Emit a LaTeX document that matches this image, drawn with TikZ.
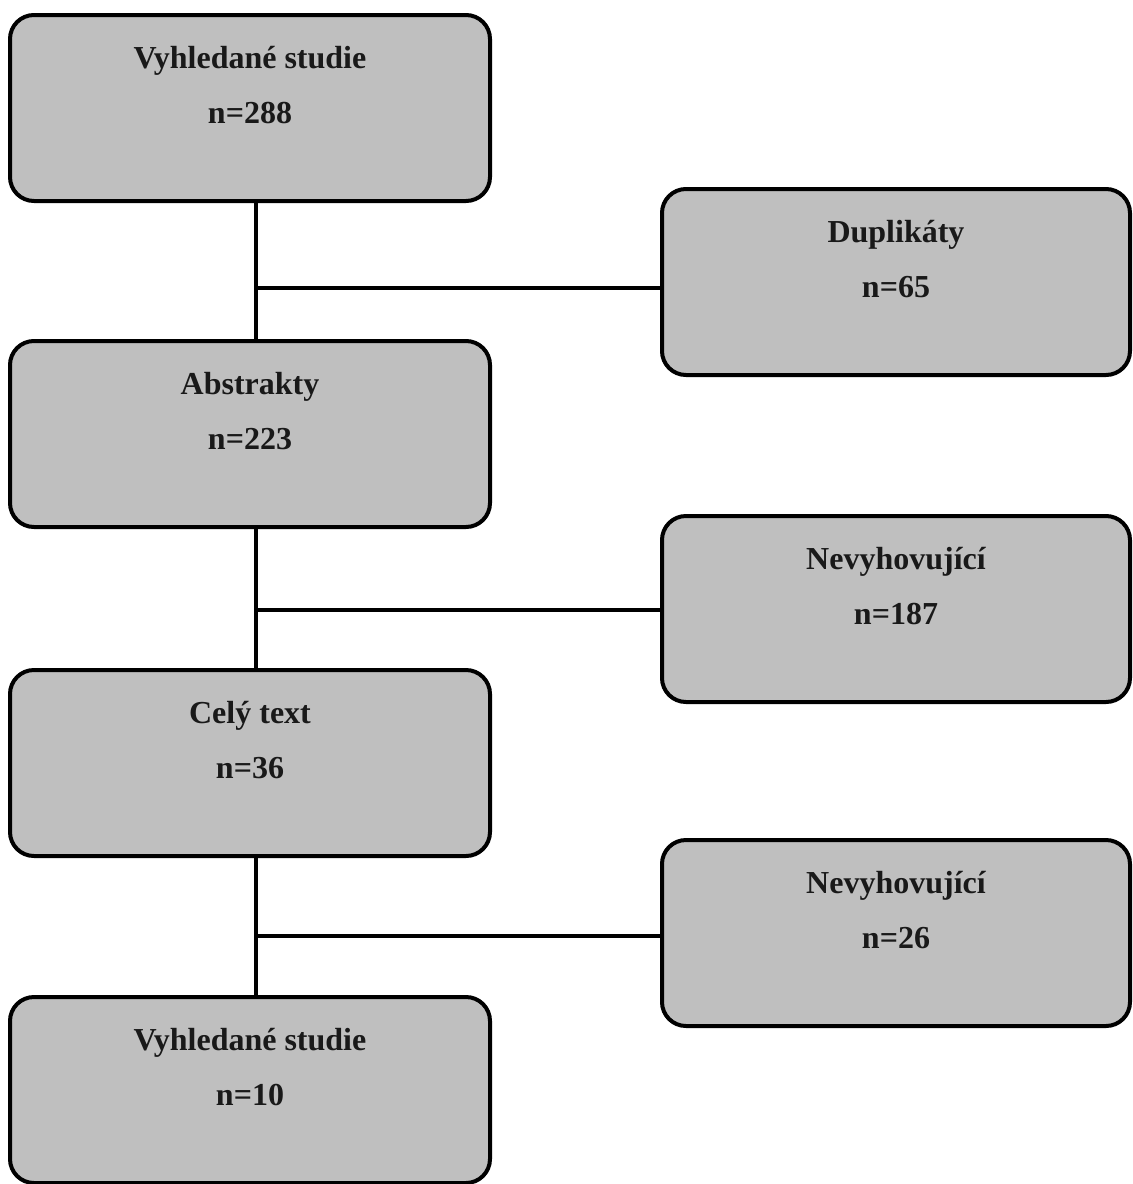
\documentclass[tikz,border=0pt]{standalone}
\usepackage{fontspec}
\setmainfont{Liberation Serif}
\usepackage{xcolor}
\usepackage{tikz}
\usetikzlibrary{positioning}
\definecolor{boxgray}{HTML}{BFBFBF}

\begin{document}
\begin{tikzpicture}[x=0.5pt,y=-0.5pt]
    \tikzstyle{box}=[draw, line width=2pt, rounded corners=12pt, fill=boxgray, minimum width=240pt, minimum height=93pt, inner sep=0pt]
    \tikzstyle{side}=[box, minimum width=234pt]
    \tikzstyle{txt}=[font=\fontsize{16}{19}\selectfont\bfseries, text=black!90, inner sep=0pt]
    \tikzstyle{link}=[line width=2pt]
    \useasboundingbox (0,0) rectangle (1132,1184);

    \node[box] (srch) at (250,108) {};
    \node[box] (abst) at (250,434) {};
    \node[box] (full) at (250,763) {};
    \node[box] (incl) at (250,1090) {};

    \node[side] (dup) at (896,282) {};
    \node[side] (excl1) at (896,609) {};
    \node[side] (excl2) at (896,933) {};

    % texts
    \node[txt] (srch-t) [below=16.5pt of srch.north] {Vyhledané studie};
    \node[txt] (srch-n) [below=44.5pt of srch.north] {n=288};
    \node[txt] (abst-t) [below=16.5pt of abst.north] {Abstrakty};
    \node[txt] (abst-n) [below=44.5pt of abst.north] {n=223};
    \node[txt] (full-t) [below=16.5pt of full.north] {Celý text};
    \node[txt] (full-n) [below=44.5pt of full.north] {n=36};
    \node[txt] (incl-t) [below=16.5pt of incl.north] {Vyhledané studie};
    \node[txt] (incl-n) [below=44.5pt of incl.north] {n=10};

    \node[txt] (dup-t) [below=16.5pt of dup.north] {Duplikáty};
    \node[txt] (dup-n) [below=44.5pt of dup.north] {n=65};
    \node[txt] (excl1-t) [below=16.5pt of excl1.north] {Nevyhovující};
    \node[txt] (excl1-n) [below=44.5pt of excl1.north] {n=187};
    \node[txt] (excl2-t) [below=16.5pt of excl2.north] {Nevyhovující};
    \node[txt] (excl2-n) [below=44.5pt of excl2.north] {n=26};

    \coordinate (j1) at (256,288);
    \coordinate (j2) at (256,610);
    \coordinate (j3) at (256,936);

    \draw[link] (srch.south -| j1) -- (abst.north -| j1);
    \draw[link] (abst.south -| j2) -- (full.north -| j2);
    \draw[link] (full.south -| j3) -- (incl.north -| j3);

    \draw[link] (j1) -- (dup.west |- j1);
    \draw[link] (j2) -- (excl1.west |- j2);
    \draw[link] (j3) -- (excl2.west |- j3);
\end{tikzpicture}
\end{document}
